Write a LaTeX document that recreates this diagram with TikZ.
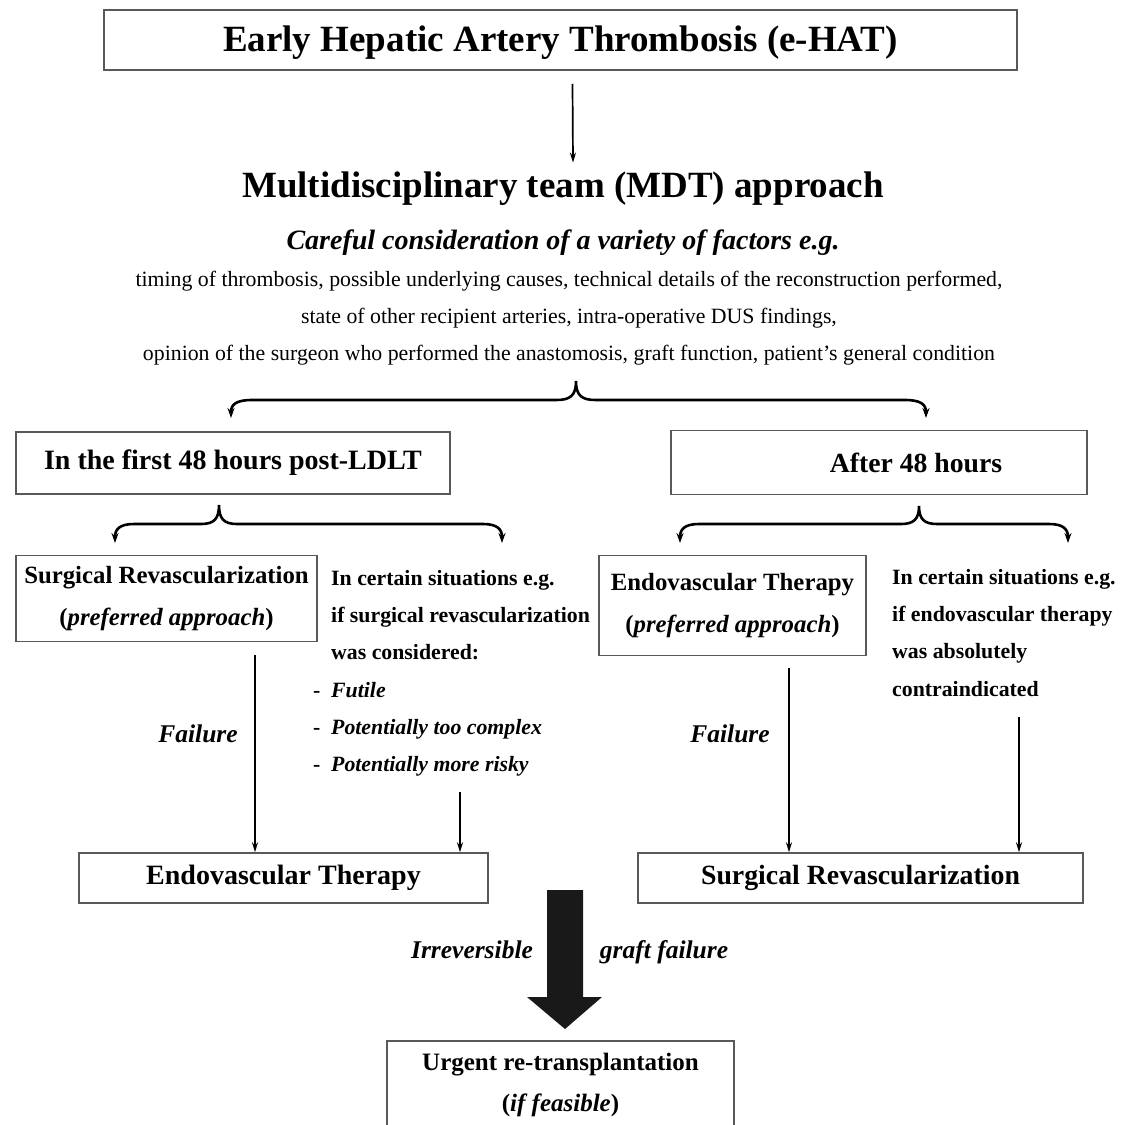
\documentclass[tikz,border=0pt]{standalone}
\usepackage{fontspec}
\setmainfont{Liberation Serif}
\usepackage{tikz}
\usetikzlibrary{arrows.meta,positioning}

\tikzset{
  box/.style={draw=black!65, line width=1.5pt, align=center, inner sep=0pt},
  conn/.style={-{Stealth[length=10pt,width=6pt]}, line width=1.7pt},
  brace/.style={{Stealth[length=10pt,width=7pt]}-{Stealth[length=10pt,width=7pt]}, line width=2.6pt},
  lbl/.style={font=\fontsize{25.5}{28}\selectfont\bfseries\itshape},
}

\begin{document}
\begin{tikzpicture}[x=1pt,y=-1pt]
\useasboundingbox (0,0) rectangle (1123,1125);
% header and MDT block
\node[box, minimum width=913pt, minimum height=60pt, text height=22pt, text depth=0pt, font=\fontsize{37}{38}\selectfont\bfseries] (ehat) at (560.5,40) {Early Hepatic Artery Thrombosis (e-HAT)};
\node[font=\fontsize{37}{40}\selectfont\bfseries] (mdt) at (563,189) {Multidisciplinary team (MDT) approach};
\node[font=\fontsize{28}{30}\selectfont\bfseries\itshape] (careful) at (563,243) {Careful consideration of a variety of factors e.g.};
\node[font=\fontsize{21.8}{37}\selectfont, align=center, anchor=north, inner sep=0pt] (factors) at (569,271) {timing of thrombosis, possible underlying causes, technical details of the reconstruction performed,\\ state of other recipient arteries, intra-operative DUS findings,\\ opinion of the surgeon who performed the anastomosis, graft function, patient's general condition};
\draw[conn] ([xshift=12pt,yshift=-13pt]ehat.south) -- ([xshift=10pt,yshift=6pt]mdt.north);

% time windows
\node[box, minimum width=434pt, minimum height=62pt, font=\fontsize{28}{30}\selectfont\bfseries] (first48) at (233,463) {In the first 48 hours post-LDLT};
\node[box, minimum width=416pt, minimum height=64pt, font=\fontsize{27.7}{30}\selectfont\bfseries] (after48) at (879,462.5) {\hspace*{74pt}After 48 hours};

\coordinate (bigtip) at (576,381);
\coordinate (bigl) at (231,418);
\coordinate (bigr) at (926,418);
\draw[brace] (bigl) .. controls (231,404) and (237,400) .. (252,400) -- (556,400)
  .. controls (570,400) and (576,396) .. (bigtip) .. controls (576,396) and (582,400) .. (596,400)
  -- (905,400) .. controls (920,400) and (926,404) .. (bigr);

% first 48 hours branch
\coordinate (ltip) at (219,505);
\coordinate (ll) at (115,543);
\coordinate (lr) at (502,543);
\draw[brace] (ll) .. controls (115,529) and (120,524) .. (134,524) -- (201,524)
  .. controls (214,524) and (219,519) .. (ltip) .. controls (219,519) and (224,524) .. (237,524)
  -- (483,524) .. controls (497,524) and (502,529) .. (lr);

\node[box, minimum width=301pt, minimum height=86pt, font=\fontsize{24.8}{42}\selectfont\bfseries] (surg1) at (166.5,598.5) {Surgical Revascularization\\(\textit{preferred approach})};
\node[font=\fontsize{21.8}{37.3}\selectfont\bfseries, align=left, anchor=north west, inner sep=0pt] (sit1) at (331,570) {In certain situations e.g.\\ if surgical revascularization\\ was considered:\\ \llap{- \ }\textit{Futile}\\ \llap{- \ }\textit{Potentially too complex}\\ \llap{- \ }\textit{Potentially more risky}};

\node[box, minimum width=409pt, minimum height=50pt, font=\fontsize{28}{30}\selectfont\bfseries] (endo2) at (283.5,878) {Endovascular Therapy};
\draw[conn] (255,655) -- (endo2.north -| 255,0);
\node[lbl] (fail1) at (198,734) {Failure};
\draw[conn] (460,792) -- (endo2.north -| 460,0);

% after 48 hours branch
\coordinate (rtip) at (919,506);
\coordinate (rl) at (680,543);
\coordinate (rr) at (1068,543);
\draw[brace] (rl) .. controls (680,529) and (685,524) .. (699,524) -- (901,524)
  .. controls (914,524) and (919,519) .. (rtip) .. controls (919,519) and (924,524) .. (937,524)
  -- (1049,524) .. controls (1063,524) and (1068,529) .. (rr);

\node[box, minimum width=267pt, minimum height=100pt, font=\fontsize{24.8}{42}\selectfont\bfseries] (endo1) at (732.5,605.5) {Endovascular Therapy\\(\textit{preferred approach})};
\node[font=\fontsize{21.8}{37.3}\selectfont\bfseries, align=left, anchor=north west, inner sep=0pt] (sit2) at (892,569) {In certain situations e.g.\\ if endovascular therapy\\ was absolutely\\ contraindicated};

\node[box, minimum width=445pt, minimum height=50pt, font=\fontsize{27.8}{30}\selectfont\bfseries] (surg2) at (860.5,878) {Surgical Revascularization};
\draw[conn] (789,668) -- (surg2.north -| 789,0);
\node[lbl] (fail2) at (730,734) {Failure};
\draw[conn] (1019,717) -- (surg2.north -| 1019,0);

% re-transplantation
\node[box, anchor=north, minimum width=347pt, text depth=60pt, inner ysep=12pt, font=\fontsize{25}{41}\selectfont\bfseries] (urgent) at (560.5,1040) {Urgent re-transplantation\\(\textit{if feasible})};
\fill[black!90] (547,890) -- (583,890) -- (583,997) -- (602,997) -- (565,1029) -- (527,997) -- (547,997) -- cycle;
\node[lbl, anchor=base] (irrev) at (472,958) {Irreversible};
\node[lbl, anchor=base] (graft) at (664,958) {graft failure};
\end{tikzpicture}
\end{document}
